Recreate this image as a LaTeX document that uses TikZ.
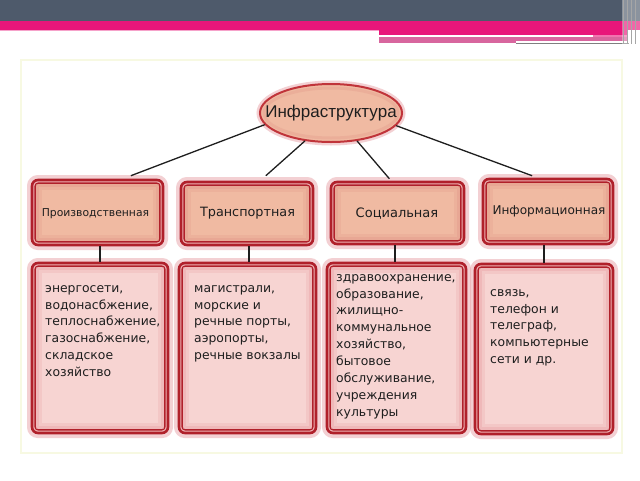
\documentclass[tikz,border=0pt]{standalone}
\usepackage{fontspec}
\newfontfamily\djs{DejaVu Sans}
\newfontfamily\lbs{Liberation Sans}
\usetikzlibrary{shapes.geometric,calc}
\definecolor{slate}{HTML}{4E5A6B}
\definecolor{hpink}{HTML}{E8167A}
\definecolor{mpink}{HTML}{D8669E}
\definecolor{dred}{HTML}{B0202A}
\definecolor{ered}{HTML}{C0343A}
\definecolor{haloc}{HTML}{E8A3A8}
\definecolor{gapc}{HTML}{EFB3B5}
\definecolor{lpink}{HTML}{F7D4D2}
\definecolor{lglow}{HTML}{E9A2A6}
\definecolor{salmon}{HTML}{F0BAA2}
\definecolor{sglow}{HTML}{E2998A}
\definecolor{frame}{HTML}{F7F9E2}
\definecolor{ink}{HTML}{1E1E1E}
\tikzset{
  outerbox/.style={rectangle, rounded corners=6pt, draw=dred, line width=2.6pt, fill=gapc, inner sep=0pt,
    preaction={draw=haloc, line width=10pt, opacity=0.5}},
  conn/.style={draw=ink, line width=1.3pt},
  lab/.style={inner sep=0pt, text=ink},
  body/.style={inner sep=0pt, text=ink, anchor=north west, align=left,
    font=\djs\fontsize{12.4}{16.9}\selectfont},
}
\newcommand\innerframe[3]{%
  \draw[dred, line width=1.5pt, rounded corners=3pt, fill=#2]
    ([shift={(4.5pt,-4.5pt)}]#1.north west) rectangle ([shift={(-4.5pt,4.5pt)}]#1.south east);
  \draw[#3, line width=3pt, opacity=0.55]
    ([shift={(6.8pt,-6.8pt)}]#1.north west) rectangle ([shift={(-6.8pt,6.8pt)}]#1.south east);
  \draw[#3, line width=3pt, opacity=0.25]
    ([shift={(9.6pt,-9.6pt)}]#1.north west) rectangle ([shift={(-9.6pt,9.6pt)}]#1.south east);
}
\begin{document}
\begin{tikzpicture}[x=1pt,y=-1pt]
\useasboundingbox (0,0) rectangle (640,480);
\fill[white] (0,0) rectangle (640,480);
% header
\fill[slate] (0,0) rectangle (640,21);
\fill[hpink] (0,21) rectangle (640,29.5);
\fill[hpink!40] (0,29.5) rectangle (379,31);
\fill[hpink] (379,29) rectangle (628,34.5);
\fill[white] (379,34.5) rectangle (593,36.5);
\fill[hpink!60] (593,34.5) rectangle (628,36.5);
\fill[mpink] (379,36.5) rectangle (628,43);
\fill[white] (516,41) rectangle (629,43);
\draw[gray, line width=0.6pt] (516,43.3) -- (629,43.3);
\fill[white, opacity=0.35] (622,0) rectangle (640,44);
\foreach \xx in {623,627,631,635}{\draw[gray!70, line width=0.7pt] (\xx,0) -- (\xx,44);}
% content frame
\draw[frame, line width=2pt] (21,60) rectangle (622,453);
% root
\node[ellipse, draw=ered, line width=2pt, fill=salmon, minimum width=142pt, minimum height=58pt,
  inner sep=0pt, preaction={draw=haloc, line width=7pt, opacity=0.5}] (root) at (331,113) {};
\node[ellipse, draw=sglow, line width=3pt, opacity=0.35, minimum width=134pt, minimum height=50pt] (rootg) at (331,113) {};
\node[lab, font=\lbs\fontsize{17}{17}\selectfont] (roott) at (331,113) {Инфраструктура};
% level 2
\node[outerbox, minimum width=131pt, minimum height=65pt] (b1) at (97.5,212.5) {};
\node[outerbox, minimum width=132pt, minimum height=63pt] (b2) at (247,213.5) {};
\node[outerbox, minimum width=133pt, minimum height=62pt] (b3) at (397.5,213) {};
\node[outerbox, minimum width=130pt, minimum height=65pt] (b4) at (548,211.5) {};
\innerframe{b1}{salmon}{sglow}
\innerframe{b2}{salmon}{sglow}
\innerframe{b3}{salmon}{sglow}
\innerframe{b4}{salmon}{sglow}
\node[lab, font=\djs\fontsize{10.8}{12}\selectfont] (b1t) at (95.5,214) {Производственная};
\node[lab, font=\djs\fontsize{12.8}{14}\selectfont] (b2t) at (247.5,213) {Транспортная};
\node[lab, font=\djs\fontsize{13}{14}\selectfont] (b3t) at (397,214) {Социальная};
\node[lab, font=\djs\fontsize{12.1}{13}\selectfont] (b4t) at (549,211) {Информационная};
% level 3
\node[outerbox, minimum width=136pt, minimum height=170pt] (d1) at (100,348) {};
\node[outerbox, minimum width=137pt, minimum height=170pt] (d2) at (247.5,348) {};
\node[outerbox, minimum width=139pt, minimum height=170pt] (d3) at (396.5,348) {};
\node[outerbox, minimum width=138pt, minimum height=170pt] (d4) at (544,349) {};
\innerframe{d1}{lpink}{lglow}
\innerframe{d2}{lpink}{lglow}
\innerframe{d3}{lpink}{lglow}
\innerframe{d4}{lpink}{lglow}
\node[body] (d1t) at (45,285) {энергосети,\\водонасбжение,\\теплоснабжение,\\газоснабжение,\\складское\\хозяйство};
\node[body] (d2t) at (194,285) {магистрали,\\морские и\\речные порты,\\аэропорты,\\речные вокзалы};
\node[body] (d3t) at (336,274) {здравоохранение,\\образование,\\жилищно-\\коммунальное\\хозяйство,\\бытовое\\обслуживание,\\учреждения\\культуры};
\node[body] (d4t) at (490,289) {связь,\\телефон и\\телеграф,\\компьютерные\\сети и др.};
% connectors
\draw[conn] (root.190) -- ($(b1.north west)!0.75!(b1.north east)+(0pt,3pt)$);
\draw[conn] (root.227) -- ($(b2.north west)!0.64!(b2.north east)+(0pt,5pt)$);
\draw[conn] (root.313) -- ($(b3.north west)!0.44!(b3.north east)+(0pt,2pt)$);
\draw[conn] (root.349) -- ($(b4.north west)!0.38!(b4.north east)+(0pt,2pt)$);
\draw[conn] ($(b1.south)+(2.5pt,0)$) -- ($(d1.north)+(0,0)$);
\draw[conn] ($(b2.south)+(2pt,0)$) -- ($(d2.north)+(1.5pt,0)$);
\draw[conn] ($(b3.south)+(-2.5pt,0)$) -- ($(d3.north)+(-1.5pt,0)$);
\draw[conn] ($(b4.south)+(-4pt,0)$) -- ($(d4.north)+(0,0)$);
\end{tikzpicture}
\end{document}
